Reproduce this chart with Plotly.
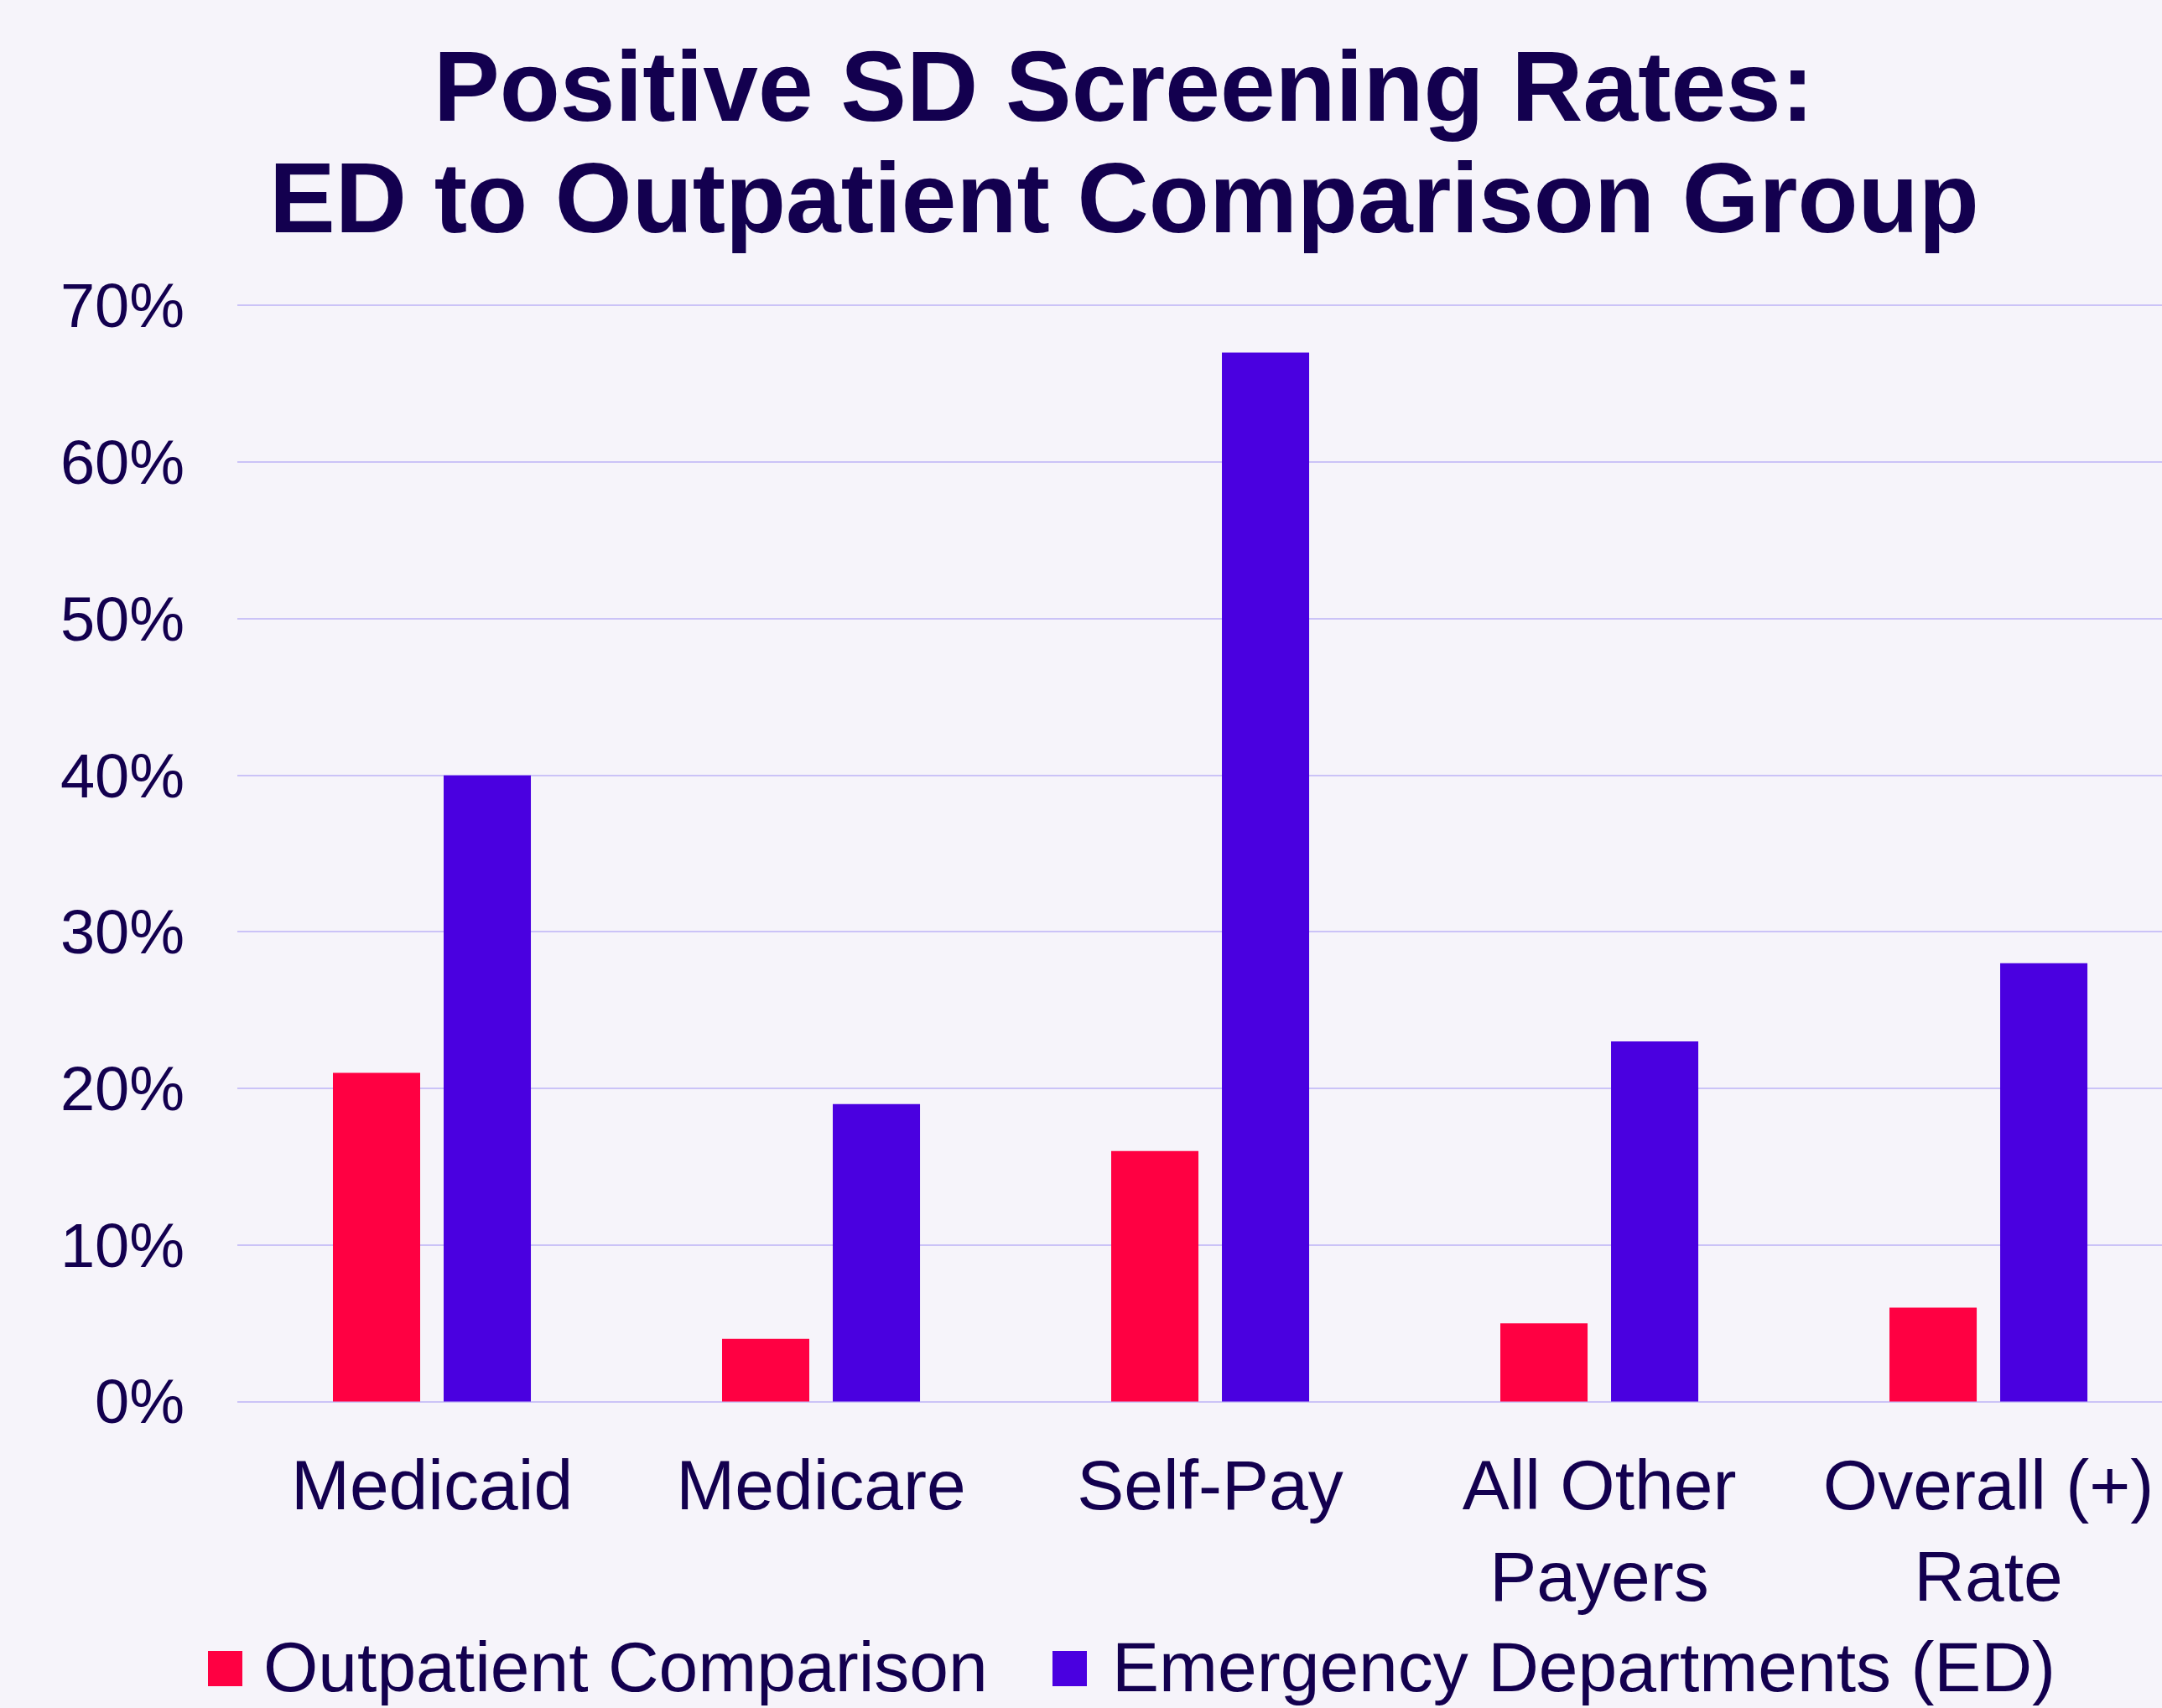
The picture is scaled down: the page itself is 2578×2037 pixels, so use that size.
import plotly.graph_objects as go

# ---------------- data ----------------
categories = ["Medicaid", "Medicare", "Self-Pay", "All Other<br>Payers", "Overall (+)<br>Rate"]
outpatient_rates = [0.21, 0.04, 0.16, 0.05, 0.06]
ed_rates = [0.40, 0.19, 0.67, 0.23, 0.28]
series_names = ["Outpatient Comparison", "Emergency Departments (ED)"]
y_tick_values = [0, 0.1, 0.2, 0.3, 0.4, 0.5, 0.6, 0.7]
title_lines = ["Positive SD Screening Rates:", "ED to Outpatient Comparison Group"]

# ---------------- style ----------------
W, H = 2578, 2037
ML, MR, MT, MB = 283, 0, 363, 364
PLOT_W = W - ML - MR
PLOT_H = H - MT - MB
FONT = "Liberation Sans, Arial, sans-serif"
TEXT = "#13004F"
BG = "#F6F4FA"
GRID = "#CBC3F7"
RED = "#FF0042"
BLUE = "#4A00E0"
colors = [RED, BLUE]


def px_x(px):
    return (px - ML) / PLOT_W


def px_y(py):
    return (H - MB - py) / PLOT_H


fig = go.Figure()
for name, vals, col in zip(series_names, [outpatient_rates, ed_rates], colors):
    fig.add_trace(go.Bar(x=categories, y=vals, name=name, marker=dict(color=col, line=dict(width=0)),
                         showlegend=False))

fig.update_layout(
    width=W, height=H,
    margin=dict(l=ML, r=MR, t=MT, b=MB, pad=0),
    paper_bgcolor=BG, plot_bgcolor=BG,
    barmode="group", bargap=0.431, bargroupgap=0.212,
    font=dict(family=FONT, color=TEXT),
    xaxis=dict(range=[-0.5, 4.446], showgrid=False, zeroline=False, showline=False,
               tickfont=dict(size=84, color=TEXT), ticks="", ticklabelstandoff=42),
    yaxis=dict(range=[-0.0008, 0.7008], tickvals=y_tick_values, tickformat=".0%",
               showgrid=True, gridcolor=GRID, gridwidth=2, zeroline=False, showline=False,
               tickfont=dict(size=74, color=TEXT), ticks="", ticklabelstandoff=62),
)

# title (two lines)
fig.add_annotation(text="<b>%s</b>" % title_lines[0], xref="paper", yref="paper",
                   x=px_x(1340), y=px_y(103), xanchor="center", yanchor="middle",
                   showarrow=False, font=dict(size=118, color=TEXT, family=FONT))
fig.add_annotation(text="<b>%s</b>" % title_lines[1], xref="paper", yref="paper",
                   x=px_x(1340), y=px_y(236), xanchor="center", yanchor="middle",
                   showarrow=False, font=dict(size=118, color=TEXT, family=FONT))

# legend (large square swatches)
legend_swatch_x = [248, 1255]
legend_text_x = [312, 1324]
for name, col, sx, tx in zip(series_names, colors, legend_swatch_x, legend_text_x):
    fig.add_shape(type="rect", xref="paper", yref="paper",
                  x0=px_x(sx), x1=px_x(sx + 41), y0=px_y(2011), y1=px_y(1969),
                  fillcolor=col, line=dict(width=0))
    fig.add_annotation(text=name, xref="paper", yref="paper", x=px_x(tx), y=px_y(1988),
                       xanchor="left", yanchor="middle", showarrow=False,
                       font=dict(size=84, color=TEXT, family=FONT))

fig.write_html("out.html", config={"displayModeBar": False},
               post_script="document.body.style.margin='0';document.body.style.overflow='hidden';")
